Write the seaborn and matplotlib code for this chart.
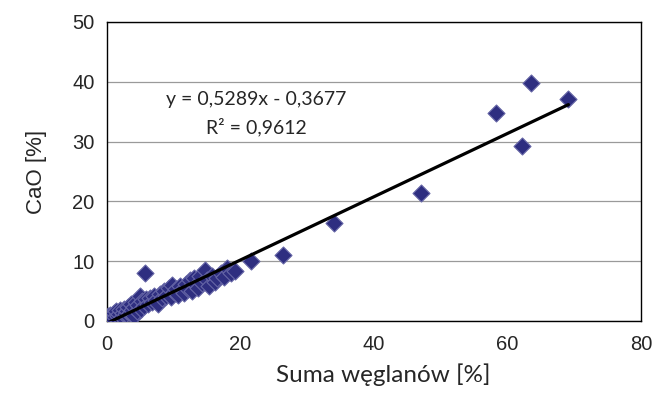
"""Scatter of CaO vs. total carbonates with linear trend line."""
import matplotlib
matplotlib.use("Agg")
import matplotlib.pyplot as plt
import numpy as np
import pandas as pd
import seaborn as sns

# Data
suma_weglanow = [
    0.2, 0.5, 0.7, 1.0, 1.2, 1.4, 1.6, 1.8, 2.0, 2.2, 2.4, 2.6, 2.8, 3.0,
    3.2, 3.4, 3.6, 3.8, 4.0, 4.1, 4.3, 4.5, 4.7, 4.9, 5.1, 5.3, 5.6, 5.9,
    6.2, 6.5, 6.8, 7.1, 7.4, 7.7, 8.0, 8.3, 8.6, 8.9, 9.2, 9.5, 9.7, 10.0,
    10.3, 10.6, 10.9, 11.2, 11.5, 11.8, 12.1, 12.4, 12.7, 13.0, 13.3, 13.6,
    13.9, 14.2, 14.6, 14.9, 15.3, 15.7, 16.1, 16.5, 17.0, 17.5, 18.0, 18.5,
    19.2, 5.7, 21.6, 26.4, 34.0, 47.0, 58.3, 62.2, 63.5, 69.1,
]
cao = [
    0.8, 1.0, 0.5, 1.3, 0.6, 1.6, 0.9, 1.2, 1.8, 0.7, 1.4, 2.0, 1.1, 1.6,
    2.4, 1.3, 2.8, 1.9, 0.9, 2.3, 3.2, 1.6, 2.7, 4.1, 2.0, 3.3, 2.5, 3.6,
    2.9, 3.9, 3.2, 4.2, 3.5, 2.9, 4.5, 3.8, 5.0, 4.2, 5.6, 4.0, 6.0, 4.8,
    5.4, 4.3, 5.8, 5.1, 4.6, 6.2, 5.4, 6.8, 5.0, 7.2, 6.0, 5.6,
    7.5, 6.3, 8.5, 6.9, 5.9, 7.6, 6.6, 7.2, 8.0, 7.4, 8.8, 8.0,
    8.4, 8.0, 10.0, 11.0, 16.4, 21.4, 34.8, 29.3, 39.8, 37.1,
]
slope, intercept = 0.5289, -0.3677
equation = "y = 0,5289x - 0,3677"
r_squared = "R² = 0,9612"

df = pd.DataFrame({"x": suma_weglanow, "y": cao})

sns.set_style("white")
plt.rcParams["font.family"] = ["Liberation Sans", "DejaVu Sans"]

W, H = 661, 399
fig = plt.figure(figsize=(W / 100, H / 100), dpi=100)
ax = fig.add_axes([0.162, 0.1955, 0.808, 0.7495])

sns.scatterplot(data=df, x="x", y="y", ax=ax, marker="D", s=75,
                color="#2e2e80", edgecolor="#6666a6", linewidth=0.8, zorder=3)

# Trend line over the data range
xs = np.array([df["x"].min(), df["x"].max()])
ax.plot(xs, slope * xs + intercept, color="black", linewidth=2.3, zorder=4)

ax.set_xlim(0, 80)
ax.set_ylim(0, 50)
ax.set_xticks([0, 20, 40, 60, 80])
ax.set_yticks([0, 10, 20, 30, 40, 50])
ax.yaxis.grid(True, color="#9a9a9a", linewidth=0.9)
ax.set_axisbelow(True)
for s in ax.spines.values():
    s.set_color("black")
    s.set_linewidth(1.0)

ax.tick_params(axis="y", direction="out", length=4, width=0.8,
               labelsize=14.5, pad=5, color="#808080")
ax.tick_params(axis="x", direction="in", length=4, width=0.8,
               labelsize=14.5, pad=10, color="#808080")

ax.set_xlabel("Suma węglanów [%]", fontsize=17.5, family="Lato",
              labelpad=7, x=0.517)
ax.set_ylabel("CaO [%]", fontsize=16, labelpad=18)

fig.text(256 / W, 1 - 99 / H, equation, fontsize=14, family="Lato",
         ha="center", va="center")
fig.text(256 / W, 1 - 127 / H, r_squared, fontsize=14, family="Lato",
         ha="center", va="center")

fig.savefig("out.png", dpi=100)
